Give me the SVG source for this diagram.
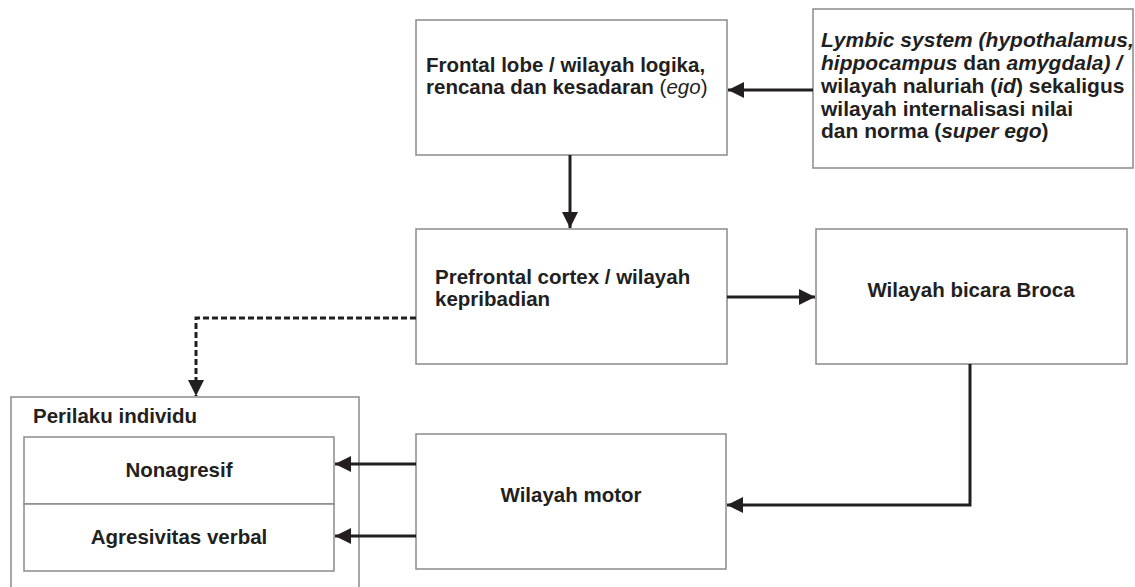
<svg xmlns="http://www.w3.org/2000/svg" width="1135" height="587" viewBox="0 0 1135 587">
<defs>
<marker id="ah" markerUnits="userSpaceOnUse" markerWidth="18" markerHeight="16" refX="16" refY="8" orient="auto">
<path d="M0,0 L16,8 L0,16 Z" fill="#231f20"/>
</marker>
</defs>
<style>
.box{fill:#fff;stroke:#8a8a8a;stroke-width:1.5}
.t{font-family:"Liberation Sans",Arial,sans-serif;font-size:20.5px;font-weight:bold;fill:#231f20}
.l{font-size:21px}
.c{stroke:#231f20;stroke-width:3;fill:none}
.d{stroke:#231f20;stroke-width:3;fill:none;stroke-dasharray:6 3}
.i{font-style:italic}
.n{font-weight:normal}
</style>
<rect width="1135" height="587" fill="#fff"/>
<g id="frontal">
<rect class="box" x="416" y="20" width="311" height="135"/>
<text class="t" x="426" y="72">Frontal lobe / wilayah logika,</text>
<text class="t" x="426" y="94">rencana dan kesadaran <tspan class="n">(</tspan><tspan class="n i">ego</tspan><tspan class="n">)</tspan></text>
</g>
<g id="lymbic">
<rect class="box" x="813" y="9" width="320" height="159"/>
<text class="t l i" x="821" y="47">Lymbic system (hypothalamus,</text>
<text class="t l" x="821" y="70"><tspan class="i">hippocampus</tspan> dan <tspan class="i">amygdala) /</tspan></text>
<text class="t l" x="821" y="93">wilayah naluriah (<tspan class="i">id</tspan>) sekaligus</text>
<text class="t l" x="821" y="115.5">wilayah internalisasi nilai</text>
<text class="t l" x="821" y="138">dan norma (<tspan class="i">super ego</tspan>)</text>
</g>
<g id="prefrontal">
<rect class="box" x="416" y="229" width="311" height="135"/>
<text class="t" x="435" y="284">Prefrontal cortex / wilayah</text>
<text class="t" x="435" y="306">kepribadian</text>
</g>
<g id="broca">
<rect class="box" x="816" y="229" width="311" height="135"/>
<text class="t" x="971" y="297" text-anchor="middle">Wilayah bicara Broca</text>
</g>
<g id="perilaku">
<rect class="box" x="11" y="397" width="348" height="200"/>
<text class="t" x="33" y="423">Perilaku individu</text>
</g>
<g id="nonagresif">
<rect class="box" x="24" y="437" width="310" height="67"/>
<text class="t" x="179" y="477" text-anchor="middle">Nonagresif</text>
</g>
<g id="agresivitas">
<rect class="box" x="24" y="504" width="310" height="67"/>
<text class="t" x="179" y="544" text-anchor="middle">Agresivitas verbal</text>
</g>
<g id="motor">
<rect class="box" x="416" y="434" width="310" height="135"/>
<text class="t" x="571" y="502" text-anchor="middle">Wilayah motor</text>
</g>
<g id="connectors">
<path class="c" d="M813,90 H728" marker-end="url(#ah)"/>
<path class="c" d="M570,155 V228" marker-end="url(#ah)"/>
<path class="c" d="M727,297 H815" marker-end="url(#ah)"/>
<path class="d" d="M416,318 H196 V396" marker-end="url(#ah)"/>
<path class="c" d="M970,364 V505 H727" marker-end="url(#ah)"/>
<path class="c" d="M416,464 H335" marker-end="url(#ah)"/>
<path class="c" d="M416,536 H335" marker-end="url(#ah)"/>
</g>
</svg>
